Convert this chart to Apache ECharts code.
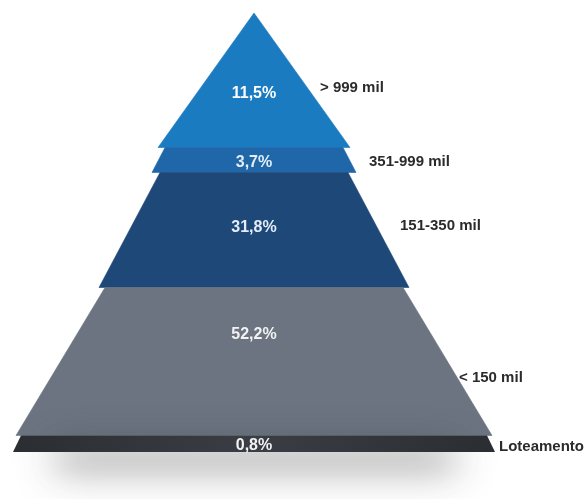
<!DOCTYPE html>
<html>
<head>
<meta charset="utf-8">
<script src="https://cdn.jsdelivr.net/npm/echarts@6/dist/echarts.min.js"></script>
<style>
html,body{margin:0;padding:0;background:#fff;}
#chart{width:584px;height:499px;}
</style>
</head>
<body>
<div id="chart"></div>
<script>
// ---- data ----
const categories = ['> 999 mil', '351-999 mil', '151-350 mil', '< 150 mil', 'Loteamento'];
const shares = [11.5, 3.7, 31.8, 52.2, 0.8];

// ---- layout (drawing geometry in chart units, not data) ----
const CENTER_X = 254;
// [yTop, yBottom, halfWidthTop, halfWidthBottom]
const bandShape = [
  [13, 147.5, 0, 96],
  [147.5, 172.5, 89, 102],
  [172.5, 287.5, 94, 155],
  [287.5, 435.5, 149, 238],
  [435.5, 452, 233, 241]
];
const pctLabelY = [94, 163, 228, 335, 446];
const catLabelPos = [[320, 88], [369, 162], [400, 226], [459, 378], [499, 447]];
const bandColors = ['#1b7bc1', '#1f67a8', '#1e4877', '#6b7480', '#2f3338'];
const pctColors = ['#ffffff', '#e2eef8', '#e2eef8', '#f2f2f2', '#f2f2f2'];

const fmt = v => v.toFixed(1).replace('.', ',') + '%';

const chart = echarts.init(document.getElementById('chart'), null, {renderer: 'canvas'});

function renderItem(params, api) {
  const i = api.value(0);
  const s = bandShape[i];
  const p = (x, y) => api.coord([x, y]);
  const pts = [
    p(CENTER_X - s[2], s[0]),
    p(CENTER_X + s[2], s[0]),
    p(CENTER_X + s[3], s[1]),
    p(CENTER_X - s[3], s[1])
  ];
  const children = [];
  if (i === bandShape.length - 1) {
    // soft floor shadow, cast from a rect hidden behind the bottom band
    const a = p(55, s[0] + 2);
    const b = p(455, s[1] - 2);
    children.push({
      type: 'rect',
      shape: {x: a[0], y: a[1], width: b[0] - a[0], height: b[1] - a[1]},
      style: {
        fill: '#666',
        shadowBlur: 38, shadowColor: 'rgba(60,60,60,0.9)', shadowOffsetY: 15
      }
    });
  }
  let fill = bandColors[i];
  if (i === bandShape.length - 1) {
    fill = {type: 'linear', x: 0, y: 0, x2: 1, y2: 0, colorStops: [
      {offset: 0, color: '#2a2d32'}, {offset: 0.5, color: '#3a3e44'}, {offset: 1, color: '#2a2d32'}]};
  }
  children.push({
    type: 'polygon',
    shape: {points: pts},
    style: {fill: fill, stroke: fill === bandColors[i] ? fill : null, lineWidth: 0.6}
  });
  const lp = p(CENTER_X, pctLabelY[i]);
  children.push({
    type: 'text',
    x: lp[0], y: lp[1],
    style: {
      text: fmt(api.value(1)),
      fill: pctColors[i],
      font: 'bold 16px "Liberation Sans Narrow", "Liberation Sans", sans-serif',
      align: 'center', verticalAlign: 'middle'
    }
  });
  const cp = p(catLabelPos[i][0], catLabelPos[i][1]);
  children.push({
    type: 'text',
    x: cp[0], y: cp[1],
    style: {
      text: categories[i],
      fill: '#2b2b2b',
      font: 'bold 15px "Liberation Sans Narrow", "Liberation Sans", sans-serif',
      align: 'left', verticalAlign: 'middle'
    }
  });
  return {type: 'group', children: children};
}

chart.setOption({
  backgroundColor: '#ffffff',
  animation: false,
  grid: {left: 0, right: 0, top: 0, bottom: 0},
  xAxis: {type: 'value', min: 0, max: 584, show: false},
  yAxis: {type: 'value', min: 0, max: 499, inverse: true, show: false},
  series: [{
    type: 'custom',
    renderItem: renderItem,
    clip: false,
    encode: {x: -1, y: -1},
    data: shares.map((v, i) => [i, v])
  }]
});
</script>
</body>
</html>
